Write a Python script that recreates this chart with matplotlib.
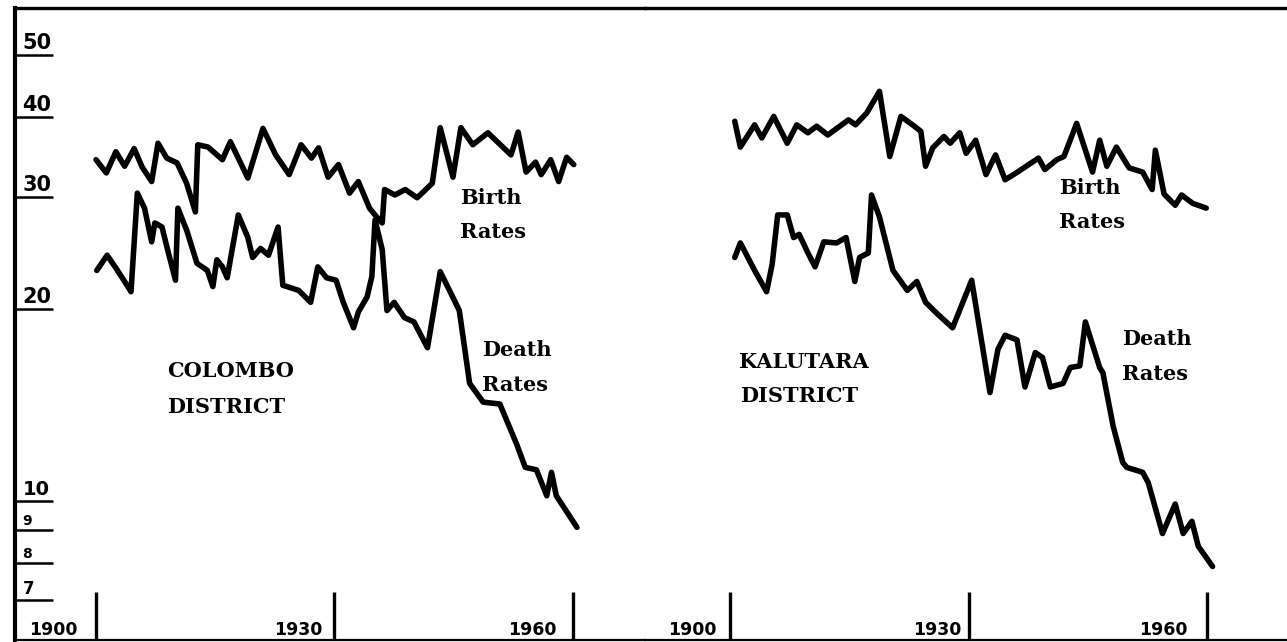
import matplotlib
matplotlib.use("Agg")
import matplotlib.pyplot as plt

# ---------------- data ----------------
colombo_birth_years = [1900.0, 1901.3, 1902.5, 1903.6, 1904.8, 1905.8, 1907.0, 1907.8, 1908.9, 1910.2,
                       1911.4, 1912.5, 1912.8, 1914.1, 1915.9, 1916.9, 1917.9, 1919.1, 1921.0, 1922.6,
                       1924.3, 1925.8, 1927.1, 1928.0, 1929.2, 1930.5, 1931.9, 1933.0, 1934.4, 1935.3,
                       1936.0, 1936.3, 1937.6, 1938.9, 1940.4, 1942.3, 1943.3, 1944.9, 1945.9, 1947.4,
                       1949.3, 1952.2, 1953.1, 1954.1, 1955.3, 1956.0, 1957.2, 1958.2, 1959.2, 1960.1]
colombo_birth_rates = [34.3, 32.7, 35.3, 33.5, 35.7, 33.4, 31.7, 36.4, 34.5, 33.9,
                       31.5, 28.4, 36.2, 35.9, 34.3, 36.6, 34.5, 32.1, 38.4, 34.9,
                       32.5, 36.2, 34.5, 35.8, 32.2, 33.7, 30.4, 31.7, 28.8, 27.9,
                       27.3, 30.8, 30.2, 30.8, 29.9, 31.5, 38.5, 32.2, 38.5, 36.2,
                       37.8, 34.9, 37.9, 32.8, 34.0, 32.5, 34.3, 31.7, 34.6, 33.7]

colombo_death_years = [1900.1, 1901.4, 1902.5, 1903.6, 1904.4, 1905.2, 1906.1, 1907.0, 1907.4, 1908.3,
                       1909.0, 1910.0, 1910.3, 1911.4, 1912.7, 1914.0, 1914.7, 1915.2, 1915.9, 1916.5,
                       1917.9, 1919.1, 1919.7, 1920.7, 1921.7, 1922.9, 1923.5, 1924.5, 1925.5, 1927.0,
                       1927.9, 1929.0, 1930.2, 1931.1, 1932.4, 1933.0, 1934.1, 1934.7, 1935.1, 1936.0,
                       1936.6, 1937.5, 1938.8, 1940.0, 1941.7, 1943.3, 1945.2, 1945.7, 1947.0, 1948.7,
                       1950.8, 1952.9, 1954.0, 1955.4, 1956.7, 1957.3, 1957.9, 1960.5]
colombo_death_rates = [23.0, 24.3, 23.2, 22.1, 21.3, 30.4, 28.8, 25.5, 27.3, 26.9,
                       24.8, 22.2, 28.8, 26.6, 23.6, 23.0, 21.7, 23.9, 23.3, 22.4,
                       28.1, 25.9, 24.1, 24.9, 24.3, 26.9, 21.8, 21.6, 21.4, 20.5,
                       23.3, 22.4, 22.2, 20.5, 18.7, 19.8, 20.9, 22.5, 27.6, 24.8,
                       19.9, 20.5, 19.4, 19.1, 17.4, 22.9, 20.5, 19.9, 15.3, 14.3,
                       14.2, 12.3, 11.3, 11.2, 10.2, 11.1, 10.2, 9.1]

kalutara_birth_years = [1900.6, 1901.3, 1903.1, 1904.0, 1905.5, 1907.2, 1908.4, 1909.8, 1910.9, 1912.3,
                        1914.9, 1915.8, 1917.2, 1918.8, 1920.1, 1921.5, 1923.2, 1924.0, 1924.6, 1925.5,
                        1926.9, 1927.7, 1928.9, 1929.7, 1930.9, 1932.2, 1933.4, 1934.6, 1936.0, 1938.8,
                        1939.6, 1941.1, 1942.0, 1943.6, 1945.6, 1946.5, 1947.4, 1948.6, 1950.2, 1951.9,
                        1953.1, 1953.5, 1954.6, 1956.0, 1956.8, 1958.2, 1959.9]
kalutara_birth_rates = [39.4, 35.9, 38.9, 37.1, 40.1, 36.4, 38.9, 37.8, 38.7, 37.5,
                        39.6, 38.9, 40.6, 43.9, 34.7, 40.1, 38.7, 38.0, 33.5, 35.8,
                        37.3, 36.4, 37.8, 35.1, 36.8, 32.5, 34.9, 31.9, 32.7, 34.5,
                        33.1, 34.3, 34.7, 39.1, 32.8, 36.8, 33.5, 35.9, 33.3, 32.8,
                        30.8, 35.5, 30.3, 29.1, 30.2, 29.3, 28.8]

kalutara_death_years = [1900.6, 1901.3, 1903.1, 1904.6, 1905.3, 1906.0, 1907.2, 1908.0, 1908.7, 1909.8,
                        1910.7, 1911.8, 1913.4, 1914.6, 1915.7, 1916.3, 1917.4, 1917.8, 1918.8, 1920.5,
                        1922.3, 1923.5, 1924.6, 1926.2, 1928.0, 1930.4, 1932.7, 1933.7, 1934.6, 1936.1,
                        1937.1, 1938.4, 1939.3, 1940.3, 1941.9, 1942.8, 1944.0, 1944.7, 1946.5, 1946.9,
                        1948.2, 1949.4, 1949.9, 1951.9, 1952.6, 1954.4, 1956.0, 1957.0, 1958.1, 1958.9,
                        1960.7]
kalutara_death_rates = [24.1, 25.4, 23.0, 21.3, 23.5, 28.1, 28.1, 25.9, 26.2, 24.5,
                        23.3, 25.5, 25.4, 25.9, 22.1, 24.1, 24.5, 30.2, 27.9, 23.0,
                        21.4, 22.1, 20.5, 19.6, 18.7, 22.2, 14.8, 17.3, 18.2, 17.9,
                        15.1, 17.1, 16.8, 15.1, 15.3, 16.2, 16.3, 19.1, 16.2, 15.9,
                        13.1, 11.5, 11.3, 11.1, 10.7, 8.9, 9.9, 8.9, 9.3, 8.5,
                        7.9]

y_tick_values = [50, 40, 30, 20, 10, 9, 8, 7]
y_tick_labels = ["50", "40", "30", "20", "10", "9", "8", "7"]
year_ticks = [1900, 1930, 1960]
year_labels = ["1900", "1930", "1960"]

# ---------------- layout ----------------
W, H = 1287, 642
fig = plt.figure(figsize=(W / 100, H / 100), dpi=100)
fig.patch.set_facecolor("white")

Y_LO, Y_HI = 6.06, 59.3
axL = fig.add_axes([15 / W, 2 / H, 630 / W, 632 / H])
axR = fig.add_axes([645 / W, 2 / H, 642 / W, 632 / H])
axL.set_xlim(1889.81, 1969.06)
axR.set_xlim(1889.31, 1970.06)

for ax in (axL, axR):
    ax.set_yscale("log")
    ax.set_ylim(Y_LO, Y_HI)
    ax.set_xticks([])
    ax.set_yticks([])
    ax.minorticks_off()
    ax.patch.set_alpha(0)
    ax.spines["right"].set_visible(False)
    ax.spines["top"].set_linewidth(2.4)
    ax.spines["bottom"].set_linewidth(1.6)
axL.spines["left"].set_linewidth(3.0)
axR.spines["left"].set_visible(False)

line_kw = dict(color="black", lw=4.0, solid_joinstyle="round", solid_capstyle="round")
axL.plot(colombo_birth_years, colombo_birth_rates, **line_kw)
axL.plot(colombo_death_years, colombo_death_rates, **line_kw)
axR.plot(kalutara_birth_years, kalutara_birth_rates, **line_kw)
axR.plot(kalutara_death_years, kalutara_death_rates, **line_kw)

# y-scale marks (underlined numbers at the left edge)
ytr = axL.get_yaxis_transform()
axL.hlines(y_tick_values, 0, 38 / 630, transform=ytr, color="black", lw=1.8)
tick_fs = {"50": 15, "40": 15, "30": 15, "20": 15, "10": 14, "9": 10, "8": 10, "7": 12}
for v, lab in zip(y_tick_values, y_tick_labels):
    axL.annotate(lab, xy=(0.012, v), xycoords=ytr, xytext=(0, 1.5), textcoords="offset points",
                 ha="left", va="bottom", fontsize=tick_fs[lab], fontweight="bold", color="black")

# year bars and labels
for ax, offs in ((axL, (13, 8.6, 11.5)), (axR, (9.4, 5.0, 14.0))):
    ax.vlines(year_ticks, Y_LO, 7.2, color="black", lw=2.4)
    for yr, lab, off in zip(year_ticks, year_labels, offs):
        ax.annotate(lab, xy=(yr, 6.28), xytext=(-off, 0), textcoords="offset points",
                    ha="right", va="center", fontsize=12.5, fontweight="bold", color="black")

# annotations
txt_kw = dict(fontsize=15, fontweight="bold", family="DejaVu Serif", color="black",
              ha="left", va="center")
def put(x, y, s):
    fig.text(x / W, 1 - y / H, s, **txt_kw)

put(460, 198, "Birth")
put(460, 232, "Rates")
put(482, 350, "Death")
put(482, 385, "Rates")
put(167, 371, "COLOMBO")
put(167, 407, "DISTRICT")
put(1059, 188, "Birth")
put(1059, 222, "Rates")
put(1122, 339, "Death")
put(1122, 374, "Rates")
put(739, 362, "KALUTARA")
put(740, 396, "DISTRICT")

fig.savefig("out.png", dpi=100, facecolor="white")
